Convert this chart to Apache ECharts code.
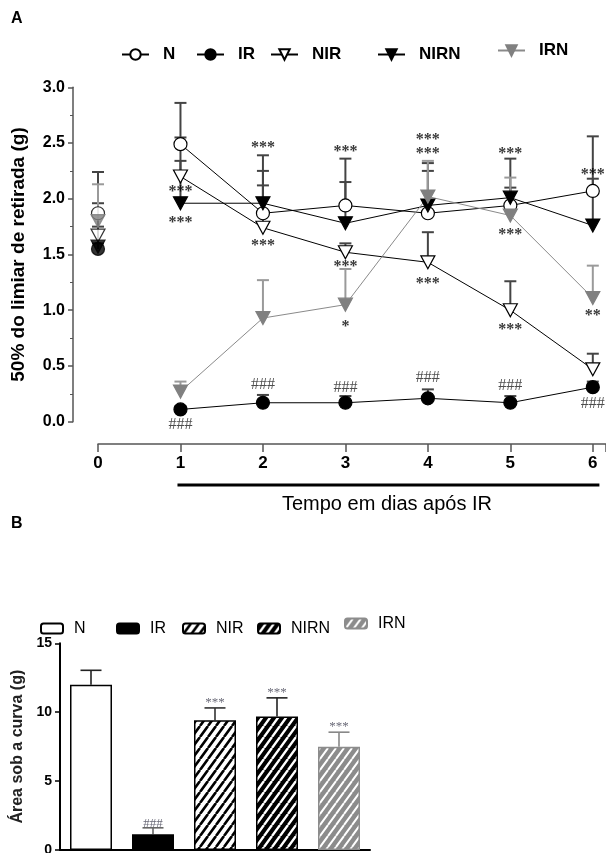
<!DOCTYPE html>
<html><head><meta charset="utf-8">
<script src="https://cdn.jsdelivr.net/npm/echarts@6/dist/echarts.min.js"></script>
<style>html,body{margin:0;padding:0;background:#fff}#c{width:606px;height:853px}</style>
</head><body><div id="c"></div>
<script>
// ---------- Panel A data ----------
const days = [0, 1, 2, 3, 4, 5, 6];
const groupNames = ['N', 'IR', 'NIR', 'NIRN', 'IRN'];
const meanN    = [1.87, 2.49, 1.87, 1.94, 1.87, 1.94, 2.07];
const meanIR   = [1.55, 0.11, 0.17, 0.17, 0.21, 0.17, 0.31];
const meanNIR  = [1.67, 2.20, 1.74, 1.52, 1.43, 1.00, 0.47];
const meanNIRN = [1.57, 1.96, 1.96, 1.78, 1.94, 2.01, 1.76];
const meanIRN  = [1.80, 0.27, 0.93, 1.05, 2.02, 1.85, 1.11];
const upperN    = [2.24, 2.86, 2.25, 2.36, 2.25, 2.10, 2.56];
const upperIR   = [1.60, 0.14, 0.24, 0.23, 0.29, 0.23, 0.36];
const upperNIR  = [1.96, 2.34, 2.12, 1.60, 1.70, 1.26, 0.61];
const upperNIRN = [1.75, 2.55, 2.39, 2.15, 2.32, 2.36, 2.18];
const upperIRN  = [2.13, 0.36, 1.27, 1.37, 2.34, 2.19, 1.40];
const yTicksA = [0, 0.5, 1.0, 1.5, 2.0, 2.5, 3.0];
const starsA = [
  [1, 2.11, '***'], [1, 1.83, '***'],
  [2, 2.50, '***'], [2, 1.62, '***'],
  [3, 2.47, '***'], [3, 1.43, '***'], [3, 0.90, '*'],
  [4, 2.57, '***'], [4, 2.45, '***'], [4, 1.28, '***'],
  [5, 2.45, '***'], [5, 1.72, '***'], [5, 0.87, '***'],
  [6, 2.26, '***'], [6, 0.99, '**']
];
const hashA = [[1, -0.03, '###'], [2, 0.33, '###'], [3, 0.30, '###'], [4, 0.39, '###'], [5, 0.32, '###'], [6, 0.165, '###']];

// ---------- Panel B data ----------
const aucValues = [12.0, 1.14, 9.42, 9.69, 7.49];
const aucUpper  = [13.04, 1.61, 10.31, 11.04, 8.55];
const aucMarks  = ['', '###', '***', '***', '***'];
const aucMarkAt = [0, 2.12, 10.94, 11.67, 9.20];

const means = [meanN, meanIR, meanNIR, meanNIRN, meanIRN];
const uppers = [upperN, upperIR, upperNIR, upperNIRN, upperIRN];

function stripes(bg, fg, w, h, lw) {
  const c = document.createElement('canvas');
  c.width = w; c.height = h;
  const g = c.getContext('2d');
  g.fillStyle = bg; g.fillRect(0, 0, w, h);
  g.strokeStyle = fg; g.lineWidth = lw;
  g.beginPath();
  for (let k = -1; k <= 1; k++) { g.moveTo(k * w, h); g.lineTo(k * w + w, 0); }
  g.stroke();
  return { image: c, repeat: 'repeat' };
}

const SANS = 'Liberation Sans';
const SERIF = 'Liberation Serif';

const lineStyles = [
  { symbol: 'circle', rot: 0, size: 13, fill: '#fff', border: '#000', line: '#000' },
  { symbol: 'circle', rot: 0, size: 13, fill: '#000', border: '#000', line: '#000' },
  { symbol: 'triangle', rot: 180, size: [14, 13], fill: '#fff', border: '#000', line: '#000' },
  { symbol: 'triangle', rot: 180, size: [14, 13], fill: '#000', border: '#000', line: '#000' },
  { symbol: 'triangle', rot: 180, size: [14, 13], fill: '#808080', border: '#808080', line: '#8a8a8a' }
];
const errColors = ['#444', '#444', '#444', '#444', '#9a9a9a'];

const barFills = [
  '#ffffff',
  '#000000',
  stripes('#ffffff', '#000000', 8, 11, 2.6),
  stripes('#000000', '#ffffff', 8, 11, 2.4),
  stripes('#8c8c8c', '#ffffff', 8, 11, 2.0)
];
const barBorders = ['#000', '#000', '#000', '#000', '#8c8c8c'];
const barErrColors = ['#222', '#666', '#333', '#222', '#888'];

const series = [];
// error bars panel A
groupNames.forEach((nm, i) => {
  series.push({
    type: 'custom', name: 'errA' + nm, xAxisIndex: 0, yAxisIndex: 0, z: 1,
    data: days.map((d, j) => [d, means[i][j], uppers[i][j]]),
    renderItem: (params, api) => {
      const p0 = api.coord([api.value(0), api.value(1)]);
      const p1 = api.coord([api.value(0), api.value(2)]);
      const st = { stroke: errColors[i], lineWidth: 2 };
      return { type: 'group', children: [
        { type: 'line', shape: { x1: p0[0], y1: p0[1], x2: p1[0], y2: p1[1] }, style: st },
        { type: 'line', shape: { x1: p1[0] - 6, y1: p1[1], x2: p1[0] + 6, y2: p1[1] }, style: st }
      ] };
    }
  });
});
// lines panel A (days 1-6 joined) and baseline points (day 0, not joined)
groupNames.forEach((nm, i) => {
  const s = lineStyles[i];
  const common = {
    xAxisIndex: 0, yAxisIndex: 0, z: 3,
    symbol: s.symbol, symbolRotate: s.rot, symbolSize: s.size,
    itemStyle: { color: s.fill, borderColor: s.border, borderWidth: 1.2 },
    animation: false
  };
  series.push(Object.assign({
    type: 'line', name: nm, showAllSymbol: true, clip: false,
    data: days.slice(1).map((d, j) => [d, means[i][j + 1]]),
    lineStyle: { color: s.line, width: 1 }
  }, common));
  series.push(Object.assign({
    type: 'scatter', name: nm + ' (0)', clip: false,
    data: [[days[0], means[i][0]]]
  }, common));
});
// annotations panel A
series.push({
  type: 'scatter', name: 'starsA', xAxisIndex: 0, yAxisIndex: 0, symbolSize: 0, z: 5, clip: false,
  data: starsA,
  label: { show: true, position: 'inside', formatter: p => p.value[2], color: '#000',
    fontFamily: SERIF, fontWeight: 'bold', fontSize: 16, offset: [0, 5] }
});
series.push({
  type: 'scatter', name: 'hashA', xAxisIndex: 0, yAxisIndex: 0, symbolSize: 0, z: 5, clip: false,
  data: hashA,
  label: { show: true, position: 'inside', formatter: p => p.value[2], color: '#222',
    fontFamily: SERIF, fontSize: 16, offset: [0, 0] }
});
// bars panel B
groupNames.forEach((nm, i) => {
  series.push({
    type: 'bar', name: 'B:' + nm, xAxisIndex: 1, yAxisIndex: 1, barWidth: 42, barGap: '-100%',
    data: groupNames.map((g, j) => (j === i ? aucValues[i] : '-')),
    itemStyle: { color: barFills[i], borderColor: barBorders[i], borderWidth: 1.5 },
    animation: false
  });
});
series.push({
  type: 'custom', name: 'errB', xAxisIndex: 1, yAxisIndex: 1, z: 1,
  data: groupNames.map((g, j) => [j, aucValues[j], aucUpper[j]]),
  renderItem: (params, api) => {
    const j = api.value(0);
    const p0 = api.coord([j, api.value(1)]);
    const p1 = api.coord([j, api.value(2)]);
    const st = { stroke: barErrColors[j], lineWidth: 1.6 };
    return { type: 'group', children: [
      { type: 'line', shape: { x1: p0[0], y1: p0[1], x2: p1[0], y2: p1[1] }, style: st },
      { type: 'line', shape: { x1: p1[0] - 10.5, y1: p1[1], x2: p1[0] + 10.5, y2: p1[1] }, style: st }
    ] };
  }
});
series.push({
  type: 'scatter', name: 'marksB', xAxisIndex: 1, yAxisIndex: 1, symbolSize: 0, z: 5, clip: false,
  data: groupNames.map((g, j) => [j, aucMarkAt[j], aucMarks[j]]),
  label: { show: true, position: 'inside', formatter: p => p.value[2], color: '#445',
    fontFamily: SERIF, fontSize: 13, offset: [0, 3] }
});

// legends
const legA_left = [121, 196, 270, 377, 497];
const legA_top = [46, 46, 46, 46, 42];
const legB_left = [40, 116, 182, 257, 344];
const legB_top = [620.5, 620.5, 620.5, 620.5, 615.5];
const legends = [];
groupNames.forEach((nm, i) => {
  legends.push({ data: [nm], left: legA_left[i], top: legA_top[i], padding: 0,
    itemWidth: 27, itemHeight: 13, selectedMode: false,
    textStyle: { fontFamily: SANS, fontWeight: 'bold', fontSize: 17, color: '#000', padding: [0, 0, 0, 9] } });
  legends.push({ data: ['B:' + nm], left: legB_left[i], top: legB_top[i], padding: 0,
    itemWidth: 22, itemHeight: 10, selectedMode: false, formatter: n => n.slice(2),
    textStyle: { fontFamily: SANS, fontSize: 16, color: '#000', padding: [0, 0, 0, 6] } });
});

const chart = echarts.init(document.getElementById('c'), null, { renderer: 'canvas' });
chart.setOption({
  animation: false,
  backgroundColor: '#fff',
  legend: legends,
  grid: [
    { left: 98, top: 87.3, right: 0, bottom: 431.3, containLabel: false, outerBoundsMode: 'none' },
    { left: 60, top: 643.3, width: 310, bottom: 3, containLabel: false, outerBoundsMode: 'none' }
  ],
  xAxis: [
    { type: 'value', gridIndex: 0, min: 0, max: 6.16, interval: 1, offset: 22.3,
      axisLine: { show: true, onZero: false, lineStyle: { color: '#555', width: 1.5 } },
      axisTick: { show: true, length: 8, lineStyle: { color: '#555', width: 1.5 } },
      axisLabel: { margin: 11, fontFamily: SANS, fontWeight: 'bold', fontSize: 17, color: '#000',
        formatter: v => (Number.isInteger(v) ? String(v) : '') },
      splitLine: { show: false } },
    { type: 'category', gridIndex: 1, data: groupNames,
      axisLine: { show: true, onZero: false, lineStyle: { color: '#000', width: 2 } },
      axisTick: { show: false }, axisLabel: { show: false } }
  ],
  yAxis: [
    { type: 'value', gridIndex: 0, min: 0, max: 3, interval: 0.5, offset: 25,
      axisLine: { show: true, onZero: false, lineStyle: { color: '#555', width: 1.5 } },
      axisTick: { show: true, length: 5, lineStyle: { color: '#555', width: 1.5 } },
      minorTick: { show: true, splitNumber: 2, length: 3, lineStyle: { color: '#555', width: 1 } },
      axisLabel: { margin: 8, fontFamily: SANS, fontWeight: 'bold', fontSize: 16, color: '#000',
        formatter: v => (yTicksA.includes(v) ? v.toFixed(1) : '') },
      splitLine: { show: false },
      name: '50% do limiar de retirada (g)', nameLocation: 'middle', nameGap: 45, nameRotate: 90,
      nameTextStyle: { fontFamily: SANS, fontWeight: 'bold', fontSize: 19, color: '#000' } },
    { type: 'value', gridIndex: 1, min: 0, max: 15, interval: 5,
      axisLine: { show: true, onZero: false, lineStyle: { color: '#000', width: 2 } },
      axisTick: { show: true, length: 5, lineStyle: { color: '#000', width: 1.5 } },
      axisLabel: { margin: 8, fontFamily: SANS, fontWeight: 'bold', fontSize: 14, color: '#000' },
      splitLine: { show: false },
      name: 'Área sob a curva (g)', nameLocation: 'middle', nameGap: 28, nameRotate: 90,
      nameTextStyle: { fontFamily: SANS, fontWeight: 'bold', fontSize: 16, color: '#222' } }
  ],
  series: series
});

const a = chart.convertToPixel({ gridIndex: 0 }, [1, 0]);
const b = chart.convertToPixel({ gridIndex: 0 }, [6.08, 0]);
chart.setOption({
  graphic: [
    { type: 'text', left: 11, top: 11, style: { text: 'A', fontFamily: SANS, fontWeight: 'bold', fontSize: 16, fill: '#000' } },
    { type: 'text', left: 11, top: 516, style: { text: 'B', fontFamily: SANS, fontWeight: 'bold', fontSize: 16, fill: '#000' } },
    { type: 'line', shape: { x1: a[0] - 3, y1: 485, x2: b[0], y2: 485 }, style: { stroke: '#000', lineWidth: 3 } },
    { type: 'text', x: 387, y: 504, style: { text: 'Tempo em dias após IR', fontFamily: SANS, fontSize: 20, fill: '#000', align: 'center', verticalAlign: 'middle' } }
  ]
});
</script></body></html>
